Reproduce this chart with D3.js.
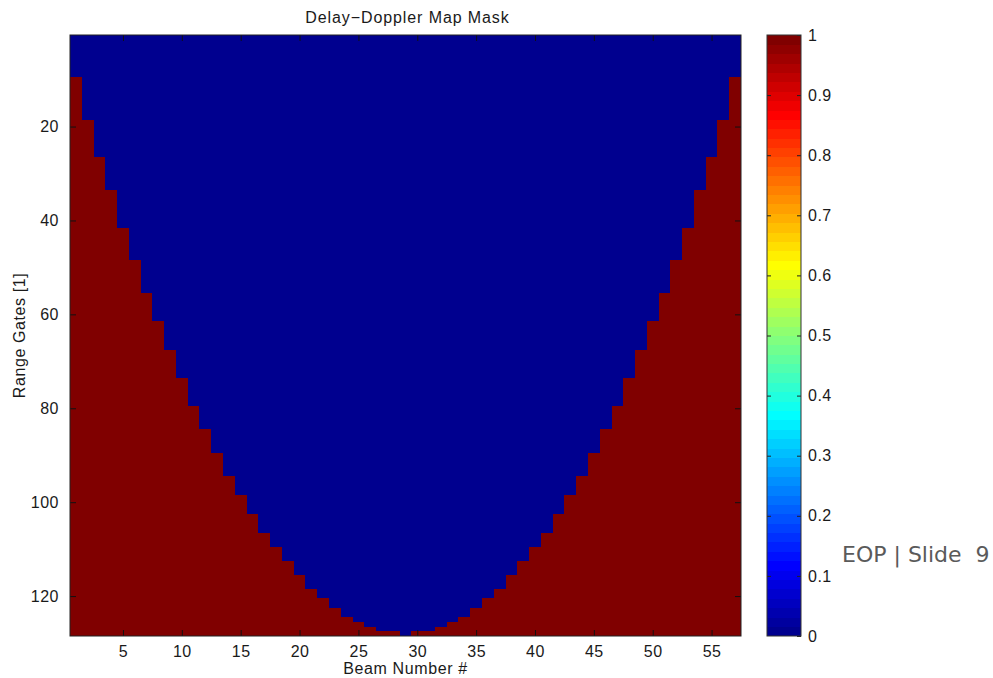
<!DOCTYPE html>
<html>
<head>
<meta charset="utf-8">
<script src="https://cdn.jsdelivr.net/npm/d3@7"></script>
<style>
  body { margin: 0; background: #fff; }
  svg text { font-family: "Liberation Sans", Arial, sans-serif; fill: #1a1a1a; }
</style>
</head>
<body>
<div id="chart"></div>
<script>
'use strict';

// Mask layout: 57 beams x 128 range gates
var beams = d3.range(1, 58);
var gates = d3.range(1, 129);
// last gate (per beam) that is still inside the valid region, counting from the top
var lastValidGate = [9, 18, 26, 33, 41, 48, 55, 61, 67, 73, 79, 84, 89, 94, 98, 102, 106, 109, 112, 115,
	118, 120, 122, 124, 125, 126, 127, 127, 128, 127, 127, 126, 125, 124, 122, 120, 118, 115, 112, 109,
	106, 102, 98, 94, 89, 84, 79, 73, 67, 61, 55, 48, 41, 33, 26, 18, 9];
var xTicks = [5, 10, 15, 20, 25, 30, 35, 40, 45, 50, 55];
var yTicks = [20, 40, 60, 80, 100, 120];
var cbarTicks = [0, 0.1, 0.2, 0.3, 0.4, 0.5, 0.6, 0.7, 0.8, 0.9, 1];

var width = 993, height = 678;
var plot = { left: 70, right: 741, top: 35, bottom: 636 };
var cbar = { left: 767, right: 801 };

// MATLAB jet(64)
function jet(n) {
	var m = Math.ceil(n / 4);
	var u = d3.range(1, m + 1).map(function (k) { return k / m; })
		.concat(d3.range(m - 1).map(function () { return 1; }))
		.concat(d3.range(m, 0, -1).map(function (k) { return k / m; }));
	var g0 = Math.ceil(m / 2) - (n % 4 === 1 ? 1 : 0);
	var rgb = d3.range(n).map(function () { return [0, 0, 0]; });
	var gIdx = [], rIdx = [], bIdx = [];
	u.forEach(function (v, i) {
		var g = g0 + i + 1;
		gIdx.push(g); rIdx.push(g + m); bIdx.push(g - m);
	});
	gIdx = gIdx.filter(function (k) { return k <= n; });
	rIdx = rIdx.filter(function (k) { return k <= n; });
	bIdx = bIdx.filter(function (k) { return k >= 1; });
	rIdx.forEach(function (k, i) { rgb[k - 1][0] = u[i]; });
	gIdx.forEach(function (k, i) { rgb[k - 1][1] = u[i]; });
	bIdx.forEach(function (k, i) { rgb[k - 1][2] = u[u.length - bIdx.length + i]; });
	return rgb.map(function (c) {
		return d3.rgb(c[0] * 255, c[1] * 255, c[2] * 255).formatHex();
	});
}
var palette = jet(64);
var color = d3.scaleQuantize().domain([0, 1]).range(palette);

var cells = [];
beams.forEach(function (b, i) {
	gates.forEach(function (g) {
		cells.push({ beam: b, gate: g, value: g > lastValidGate[i] ? 1 : 0 });
	});
});

var x = d3.scaleLinear().domain([0.5, 57.5]).range([plot.left, plot.right]);
var y = d3.scaleLinear().domain([0.5, 128.5]).range([plot.top, plot.bottom]);
var yc = d3.scaleLinear().domain([0, 1]).range([plot.bottom, plot.top]);

var svg = d3.select('#chart').append('svg')
	.attr('width', width)
	.attr('height', height);

// image cells
var img = svg.append('g').attr('shape-rendering', 'crispEdges');
img.append('rect')
	.attr('x', plot.left).attr('y', plot.top)
	.attr('width', plot.right - plot.left).attr('height', plot.bottom - plot.top)
	.attr('fill', color(0));
img.selectAll('rect.cell')
	.data(cells)
	.enter()
	.append('rect')
	.attr('class', 'cell')
	.attr('x', function (d) { return x(d.beam - 0.5); })
	.attr('y', function (d) { return y(d.gate - 0.5); })
	.attr('width', function (d) { return x(d.beam + 0.5) - x(d.beam - 0.5) + 0.3; })
	.attr('height', function (d) { return y(d.gate + 0.5) - y(d.gate - 0.5) + 0.3; })
	.attr('fill', function (d) { return color(d.value); });

// axes, ticks pointing inward on all four sides
var tickLen = 6;
var axes = svg.append('g').attr('class', 'axes');
axes.append('g')
	.attr('transform', 'translate(0,' + plot.bottom + ')')
	.call(d3.axisBottom(x).tickValues(xTicks).tickSizeInner(-tickLen).tickSizeOuter(0).tickPadding(10));
axes.append('g')
	.attr('transform', 'translate(0,' + plot.top + ')')
	.call(d3.axisTop(x).tickValues(xTicks).tickSizeInner(-tickLen).tickSizeOuter(0).tickFormat(''));
axes.append('g')
	.attr('transform', 'translate(' + plot.left + ',0)')
	.call(d3.axisLeft(y).tickValues(yTicks).tickSizeInner(-tickLen).tickSizeOuter(0).tickPadding(11));
axes.append('g')
	.attr('transform', 'translate(' + plot.right + ',0)')
	.call(d3.axisRight(y).tickValues(yTicks).tickSizeInner(-tickLen).tickSizeOuter(0).tickFormat(''));
axes.selectAll('.domain').remove();
axes.selectAll('.tick line').attr('stroke', '#111');
axes.selectAll('.tick text')
	.style('font-size', '16px')
	.style('letter-spacing', '0.5px')
	.attr('fill', '#1a1a1a');
axes.append('rect')
	.attr('x', plot.left).attr('y', plot.top)
	.attr('width', plot.right - plot.left).attr('height', plot.bottom - plot.top)
	.attr('fill', 'none').attr('stroke', '#222').attr('stroke-width', 1);

// colorbar
var cb = svg.append('g').attr('shape-rendering', 'crispEdges');
cb.selectAll('rect.band')
	.data(palette)
	.enter()
	.append('rect')
	.attr('class', 'band')
	.attr('x', cbar.left)
	.attr('width', cbar.right - cbar.left)
	.attr('y', function (d, i) { return yc((i + 1) / 64); })
	.attr('height', function (d, i) { return yc(i / 64) - yc((i + 1) / 64) + 0.4; })
	.attr('fill', function (d) { return d; });
var cbAxis = svg.append('g')
	.attr('transform', 'translate(' + cbar.right + ',0)')
	.call(d3.axisRight(yc).tickValues(cbarTicks).tickSizeInner(-4).tickSizeOuter(0).tickPadding(7)
		.tickFormat(function (d) { return d === 0 || d === 1 ? d3.format('d')(d) : d3.format('.1f')(d); }));
cbAxis.select('.domain').remove();
cbAxis.selectAll('.tick line').attr('stroke', '#222');
cbAxis.selectAll('.tick text').style('font-size', '16px').style('letter-spacing', '0.5px').attr('fill', '#1a1a1a');
svg.append('g')
	.attr('transform', 'translate(' + cbar.left + ',0)')
	.call(d3.axisLeft(yc).tickValues(cbarTicks.slice(1, -1)).tickSizeInner(-4).tickSizeOuter(0).tickFormat(''))
	.call(function (g) { g.select('.domain').remove(); g.selectAll('.tick line').attr('stroke', '#222'); });
svg.append('rect')
	.attr('x', cbar.left).attr('y', plot.top)
	.attr('width', cbar.right - cbar.left).attr('height', plot.bottom - plot.top)
	.attr('fill', 'none').attr('stroke', '#333').attr('stroke-width', 1);

// labels
svg.append('text')
	.attr('x', (plot.left + plot.right) / 2 + 2)
	.attr('y', 23)
	.attr('text-anchor', 'middle')
	.style('font-size', '16px')
	.style('letter-spacing', '0.9px')
	.text('Delay\u2212Doppler Map Mask');
svg.append('text')
	.attr('x', (plot.left + plot.right) / 2)
	.attr('y', 674)
	.attr('text-anchor', 'middle')
	.style('font-size', '16px')
	.style('letter-spacing', '0.6px')
	.text('Beam Number #');
svg.append('text')
	.attr('transform', 'translate(25,' + (plot.top + plot.bottom) / 2 + ') rotate(-90)')
	.attr('text-anchor', 'middle')
	.style('font-size', '16px')
	.style('letter-spacing', '0.6px')
	.text('Range Gates [1]');

svg.append('text')
	.attr('x', 842)
	.attr('y', 562)
	.style('font-family', '"DejaVu Sans", Verdana, sans-serif')
	.style('font-size', '22px')
	.style('fill', '#5a5a5a')
	.style('white-space', 'pre')
	.text('EOP | Slide  9');
</script>
</body>
</html>
